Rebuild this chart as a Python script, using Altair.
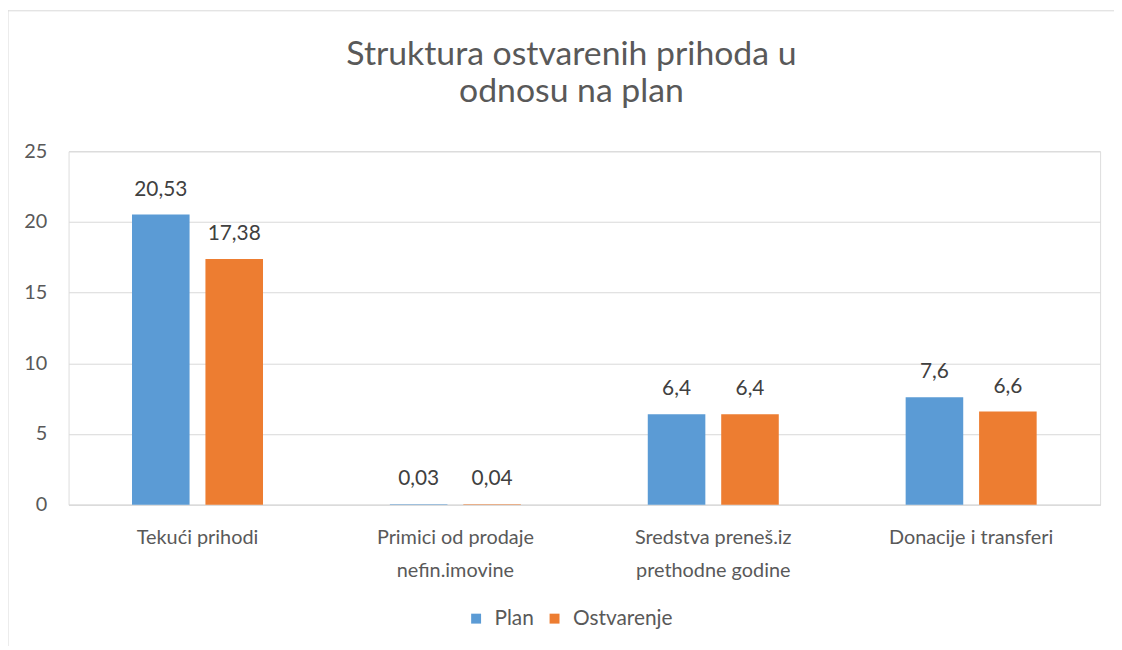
import altair as alt
import pandas as pd

categories = ["Tekući prihodi", "Primici od prodaje\nnefin.imovine",
              "Sredstva preneš.iz\nprethodne godine", "Donacije i transferi"]
series = ["Plan", "Ostvarenje"]
plan = [20.53, 0.03, 6.4, 7.6]
ostvarenje = [17.38, 0.04, 6.4, 6.6]
plan_labels = ["20,53", "0,03", "6,4", "7,6"]
ostv_labels = ["17,38", "0,04", "6,4", "6,6"]
colors = ["#5B9BD5", "#ED7D31"]

rows = []
for i, c in enumerate(categories):
    rows.append({"cat": c, "series": "Plan", "value": plan[i], "label": plan_labels[i]})
    rows.append({"cat": c, "series": "Ostvarenje", "value": ostvarenje[i], "label": ostv_labels[i]})
df = pd.DataFrame(rows)

FONT = "Lato"
W, H = 1039, 356

x = alt.X("cat:N", sort=categories, title=None,
          scale=alt.Scale(paddingInner=0.492, paddingOuter=0.246),
          axis=alt.Axis(labelAngle=0, labelFontSize=20, labelColor="#595959",
                        labelFont=FONT, labelPadding=23, ticks=False, domain=True,
                        domainColor="#d9d9d9", labelLineHeight=33,
                        labelExpr="split(datum.label, '\\n')"))
y = alt.Y("value:Q", title=None,
          scale=alt.Scale(domain=[0, 25], nice=False),
          axis=alt.Axis(values=[0, 5, 10, 15, 20, 25], labelFontSize=20,
                        labelColor="#595959", labelFont=FONT, labelPadding=22,
                        ticks=False, domain=False, gridColor="#d9d9d9"))
xo = alt.XOffset("series:N", sort=series,
                 scale=alt.Scale(paddingInner=0.216, paddingOuter=0))
color = alt.Color("series:N", sort=series,
                  scale=alt.Scale(domain=series, range=colors),
                  legend=alt.Legend(title=None, orient="none", direction="horizontal",
                                    legendX=400, legendY=460, symbolType="square",
                                    symbolSize=100, symbolStrokeWidth=0,
                                    labelFontSize=21, labelColor="#595959",
                                    labelFont=FONT, columnPadding=10, labelOffset=8))

bars = alt.Chart(df).mark_bar().encode(x=x, y=y, xOffset=xo, color=color)
texts = alt.Chart(df).mark_text(baseline="alphabetic", dy=-19, fontSize=21,
                                color="#404040", font=FONT).encode(
    x=x, y=y, xOffset=xo, text="label:N")

frame = pd.DataFrame({"a": [0]})
left_border = alt.Chart(frame).mark_rule(color="#d9d9d9", strokeWidth=1).encode(
    x=alt.value(-61), y=alt.value(-142), y2=alt.value(H + 150))
top_border = alt.Chart(frame).mark_rule(color="#d9d9d9", strokeWidth=1).encode(
    x=alt.value(-61), x2=alt.value(W + 14), y=alt.value(-141.5))

chart = alt.layer(left_border, top_border, bars, texts).properties(
    width=W, height=H,
    padding={"left": 61, "top": 142, "right": 14, "bottom": 140},
    autosize=alt.AutoSizeParams(type="none"),
    title=alt.TitleParams(text=["Struktura ostvarenih prihoda u", "odnosu na plan"],
                          fontSize=34, font=FONT, color="#595959", fontWeight="normal",
                          lineHeight=37, anchor="middle", dx=-13, offset=-100),
).configure_view(stroke=None).configure(background="white")

chart.save("out.html", embed_options={"renderer": "svg", "actions": False})
